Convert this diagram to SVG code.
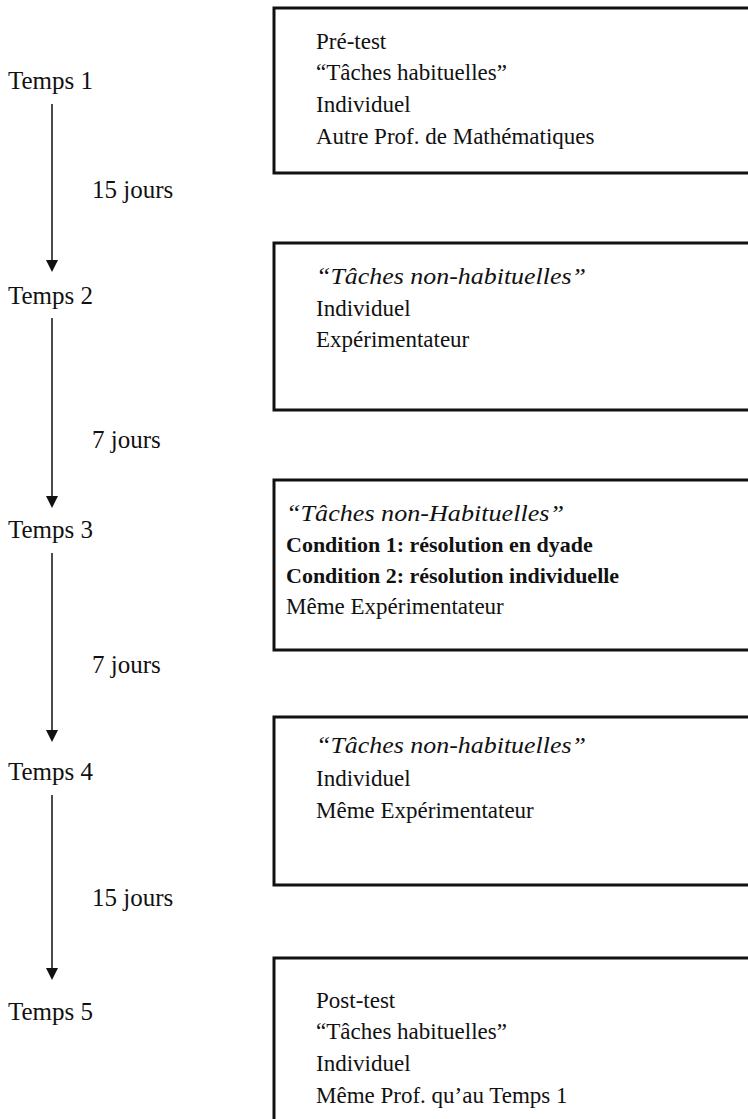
<svg xmlns="http://www.w3.org/2000/svg" width="748" height="1119" viewBox="0 0 748 1119">
<style>
text{font-family:"Liberation Serif","Times New Roman",serif;font-size:23px;fill:#111}
.lbl{font-size:25px}
.b{font-weight:bold;font-size:22px}
.i{font-style:italic}
.box{fill:none;stroke:#111;stroke-width:3}
.conn{stroke:#111;stroke-width:1.5;fill:none}
.head{fill:#111}
</style>
<rect width="748" height="1119" fill="#fff"/>
<g id="connectors">
<line class="conn" x1="52" y1="104" x2="52" y2="260"/>
<path class="head" d="M46,260 L58,260 L52,272 Z"/>
<line class="conn" x1="52" y1="318" x2="52" y2="496"/>
<path class="head" d="M46,496 L58,496 L52,508 Z"/>
<line class="conn" x1="52" y1="553" x2="52" y2="730"/>
<path class="head" d="M46,730 L58,730 L52,742 Z"/>
<line class="conn" x1="52" y1="795" x2="52" y2="968"/>
<path class="head" d="M46,968 L58,968 L52,980 Z"/>
<text class="lbl" x="92" y="198">15 jours</text>
<text class="lbl" x="92" y="448">7 jours</text>
<text class="lbl" x="92" y="673">7 jours</text>
<text class="lbl" x="92" y="906">15 jours</text>
</g>
<g id="t1"><text class="lbl" x="8" y="89">Temps 1</text></g>
<g id="t2"><text class="lbl" x="8" y="304">Temps 2</text></g>
<g id="t3"><text class="lbl" x="8" y="538">Temps 3</text></g>
<g id="t4"><text class="lbl" x="8" y="780">Temps 4</text></g>
<g id="t5"><text class="lbl" x="8" y="1020">Temps 5</text></g>
<g id="box1">
<rect class="box" x="274" y="8" width="490" height="165"/>
<text x="316" y="49">Pré-test</text>
<text x="316" y="80">“Tâches habituelles”</text>
<text x="316" y="112">Individuel</text>
<text x="316" y="144">Autre Prof. de Mathématiques</text>
</g>
<g id="box2">
<rect class="box" x="274" y="243" width="490" height="167"/>
<text x="316" y="284" class="i" textLength="270" lengthAdjust="spacingAndGlyphs">“Tâches non-habituelles”</text>
<text x="316" y="316">Individuel</text>
<text x="316" y="347">Expérimentateur</text>
</g>
<g id="box3">
<rect class="box" x="274" y="480" width="490" height="170"/>
<text x="286" y="521" class="i" textLength="278" lengthAdjust="spacingAndGlyphs">“Tâches non-Habituelles”</text>
<text x="286" y="552" class="b">Condition 1: résolution en dyade</text>
<text x="286" y="583" class="b">Condition 2: résolution individuelle</text>
<text x="286" y="614">Même Expérimentateur</text>
</g>
<g id="box4">
<rect class="box" x="274" y="717" width="490" height="168"/>
<text x="316" y="753" class="i" textLength="270" lengthAdjust="spacingAndGlyphs">“Tâches non-habituelles”</text>
<text x="316" y="786">Individuel</text>
<text x="316" y="818">Même Expérimentateur</text>
</g>
<g id="box5">
<rect class="box" x="274" y="958" width="490" height="200"/>
<text x="316" y="1008">Post-test</text>
<text x="316" y="1039">“Tâches habituelles”</text>
<text x="316" y="1071">Individuel</text>
<text x="316" y="1103">Même Prof. qu’au Temps 1</text>
</g>
</svg>
